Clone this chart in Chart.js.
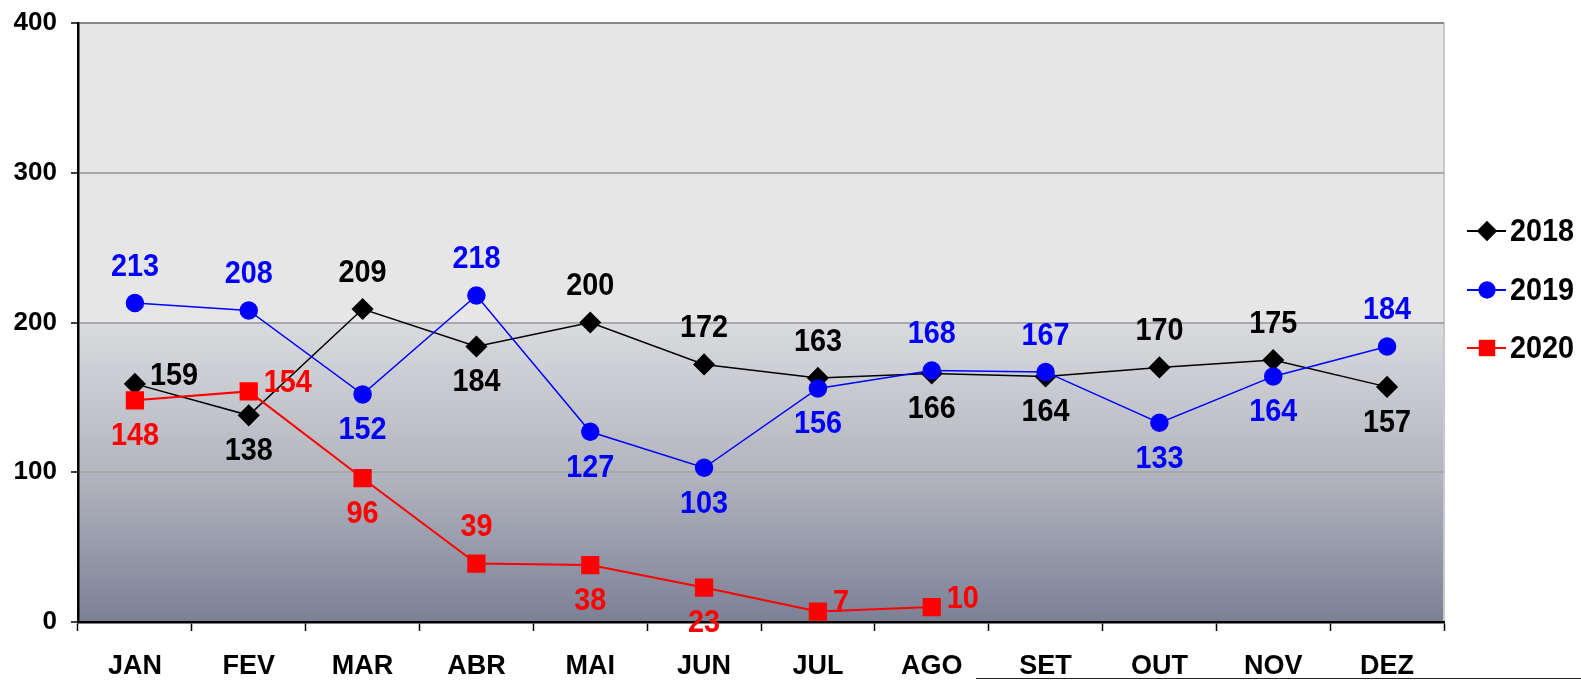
<!DOCTYPE html>
<html>
<head>
<meta charset="utf-8">
<script src="https://cdn.jsdelivr.net/npm/chart.js@4.4.0/dist/chart.umd.min.js"></script>
<style>
  html, body { margin: 0; padding: 0; background: #fff; }
  #wrap { width: 1581px; height: 681px; position: relative; }
</style>
</head>
<body>
<div id="wrap"><canvas id="chart"></canvas></div>
<script>
// dados
const meses = ['JAN', 'FEV', 'MAR', 'ABR', 'MAI', 'JUN', 'JUL', 'AGO', 'SET', 'OUT', 'NOV', 'DEZ'];
const anos = ['2018', '2019', '2020'];
const v2018 = [159, 138, 209, 184, 200, 172, 163, 166, 164, 170, 175, 157];
const v2019 = [213, 208, 152, 218, 127, 103, 156, 168, 167, 133, 164, 184];
const v2020 = [148, 154, 96, 39, 38, 23, 7, 10];
const yTicks = [0, 100, 200, 300, 400];

// onde fica o rotulo de cada ponto
const lbl2018 = ['right', 'below', 'above', 'below', 'above', 'above', 'above', 'below', 'below', 'above', 'above', 'below'];
const lbl2019 = ['above', 'above', 'below', 'above', 'below', 'below', 'below', 'above', 'above', 'below', 'below', 'above'];
const lbl2020 = ['below', 'right', 'below', 'above', 'below', 'below', 'right', 'right'];

const FONT = '"Liberation Sans", Arial, sans-serif';

// texto um pouco estreito, como no original
function textoEstreito(ctx, txt, x, y, align) {
  ctx.save();
  ctx.translate(x, y);
  ctx.scale(0.9, 1);
  ctx.textAlign = align;
  ctx.textBaseline = 'middle';
  ctx.fillText(txt, 0, 0);
  ctx.restore();
}

const fundo = {
  id: 'fundo',
  beforeDraw(chart) {
    const { ctx, chartArea: a, scales } = chart;
    const y200 = scales.y.getPixelForValue(200);
    ctx.save();
    ctx.fillStyle = '#e6e6e6';
    ctx.fillRect(a.left, a.top, a.right - a.left, y200 - a.top);
    const g = ctx.createLinearGradient(0, y200, 0, a.bottom);
    g.addColorStop(0, '#dadbde');
    g.addColorStop(0.5, '#b3b5bf');
    g.addColorStop(1, '#7c8095');
    ctx.fillStyle = g;
    ctx.fillRect(a.left, y200, a.right - a.left, a.bottom - y200);
    ctx.strokeStyle = '#c8c8c8';
    ctx.lineWidth = 2;
    ctx.beginPath();
    ctx.moveTo(a.right, a.top);
    ctx.lineTo(a.right, a.bottom);
    ctx.stroke();
    ctx.restore();
  }
};

const rotulos = {
  id: 'rotulos',
  afterDatasetsDraw(chart) {
    const ctx = chart.ctx;
    const pos = [lbl2018, lbl2019, lbl2020];
    ctx.save();
    ctx.font = 'bold 32px ' + FONT;
    chart.data.datasets.forEach((ds, i) => {
      const meta = chart.getDatasetMeta(i);
      meta.data.forEach((pt, j) => {
        const p = pos[i][j];
        ctx.fillStyle = ds.borderColor;
        if (p === 'right') {
          textoEstreito(ctx, ds.data[j], pt.x + 15, pt.y - 8, 'left');
        } else if (p === 'above') {
          textoEstreito(ctx, ds.data[j], pt.x, pt.y - 36, 'center');
        } else {
          textoEstreito(ctx, ds.data[j], pt.x, pt.y + 36, 'center');
        }
      });
    });
    ctx.restore();
  }
};

const legenda = {
  id: 'legenda',
  afterDraw(chart) {
    const ctx = chart.ctx;
    const ys = [231, 290, 348];
    ctx.save();
    chart.data.datasets.forEach((ds, i) => {
      const y = ys[i];
      ctx.strokeStyle = ds.borderColor;
      ctx.lineWidth = 2;
      ctx.beginPath();
      ctx.moveTo(1467, y);
      ctx.lineTo(1506, y);
      ctx.stroke();
      ctx.fillStyle = ds.borderColor;
      Chart.helpers.drawPoint(ctx, {
        pointStyle: ds.pointStyle, radius: ds.pointRadius, rotation: 0, borderWidth: 0
      }, 1487, y);
      ctx.fill();
      ctx.fillStyle = '#000';
      ctx.font = 'bold 32px ' + FONT;
      textoEstreito(ctx, ds.label, 1510, y + 1, 'left');
    });
    // linha solta no canto inferior
    ctx.strokeStyle = '#222';
    ctx.lineWidth = 1;
    ctx.beginPath();
    ctx.moveTo(976, 678.5);
    ctx.lineTo(1581, 678.5);
    ctx.stroke();
    ctx.restore();
  }
};

const config = {
  type: 'line',
  data: {
    labels: meses,
    datasets: [
      { label: anos[0], data: v2018, borderColor: '#000000', backgroundColor: '#000000',
        borderWidth: 1.5, pointStyle: 'rectRot', pointRadius: 10, order: 3 },
      { label: anos[1], data: v2019, borderColor: '#0000ff', backgroundColor: '#0000ff',
        borderWidth: 1.5, pointStyle: 'circle', pointRadius: 8.5, order: 2 },
      { label: anos[2], data: v2020, borderColor: '#ff0000', backgroundColor: '#ff0000',
        borderWidth: 2, pointStyle: 'rect', pointRadius: 11.5, order: 1 }
    ]
  },
  options: {
    responsive: true,
    maintainAspectRatio: false,
    animation: false,
    layout: { padding: { top: 23, right: 137, left: 0, bottom: 0 } },
    elements: {
      line: { tension: 0 },
      point: { borderWidth: 0, hoverRadius: 10 }
    },
    plugins: {
      legend: { display: false },
      tooltip: { enabled: false }
    },
    scales: {
      x: {
        offset: true,
        grid: { offset: true, drawOnChartArea: false, drawTicks: true, tickLength: 9, tickColor: '#000', tickWidth: 1.5 },
        border: { color: '#000', width: 2.5 },
        ticks: { color: '#000', font: { family: FONT, size: 27, weight: 'bold' }, padding: 19, maxRotation: 0 },
        afterFit: s => { s.height = 59; }
      },
      y: {
        min: 0,
        max: 400,
        afterBuildTicks: s => { s.ticks = yTicks.map(v => ({ value: v })); },
        grid: {
          color: c => c.tick.value === 400 ? '#888888' : (c.tick.value === 0 ? 'rgba(0,0,0,0)' : '#a8a8a8'),
          lineWidth: 2,
          tickLength: 7,
          tickColor: '#000',
          tickWidth: 1.5
        },
        border: { color: '#000', width: 2.5 },
        ticks: { color: '#000', font: { family: FONT, size: 26, weight: 'bold' }, padding: 14 },
        afterFit: s => { s.width = 78; s.paddingTop = 0; s.paddingBottom = 0; }
      }
    }
  },
  plugins: [fundo, rotulos, legenda]
};

const myChart = new Chart(document.getElementById('chart'), config);
</script>
</body>
</html>
